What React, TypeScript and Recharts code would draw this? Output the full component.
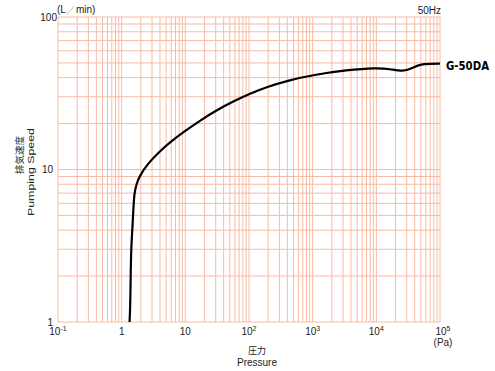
import React from 'react';
import { CartesianGrid, Line, LineChart, XAxis, YAxis } from 'recharts';

// pumping speed curve (Pa, L/min)
const pressure = [1.33, 1.35, 1.37, 1.4, 1.47, 1.53, 1.58, 1.7, 1.94, 2.62, 3.76, 6.1, 9.9, 18.1, 31.1, 56.6, 104, 190, 414, 1023, 3420, 10100, 16400, 26500, 35900, 48500, 70000, 100000];
const speed = [1, 1.15, 1.39, 2.97, 4.0, 5.6, 7.0, 8.0, 9.2, 11.0, 12.9, 15.4, 17.9, 21.3, 24.5, 28.0, 31.5, 34.8, 38.4, 41.7, 44.9, 46.5, 45.6, 43.8, 46.1, 49.0, 49.3, 49.5];

const xDecades = [-1, 0, 1, 2, 3, 4];
const yDecades = [0, 1];
const multiples = [1, 2, 3, 4, 5, 6, 7, 8, 9];

const xGrid = [...xDecades.flatMap((d) => multiples.map((m) => +(m * Math.pow(10, d)).toPrecision(3))), 100000];
const yGrid = [...yDecades.flatMap((d) => multiples.map((m) => m * Math.pow(10, d))), 100];

const data = pressure.map((p, i) => ({ p, s: speed[i] }));

const FONT = '"Liberation Sans", Arial, sans-serif';
const CJK = '"Noto Sans CJK JP", sans-serif';
const GRID = '#f7bba4';
const INK = '#222';

const isDecade = (v: number) => Math.abs(Math.log10(v) - Math.round(Math.log10(v))) < 1e-6;

function XTick(props: any) {
  const { x, payload } = props;
  const v = payload.value;
  if (!isDecade(v)) return <g />;
  const e = Math.round(Math.log10(v));
  const base = e === 0 ? '1' : '10';
  const sup = e === -1 ? '-1' : e >= 2 ? String(e) : '';
  const shift = e === 5 ? 3 : 0;
  return (
    <g>
      <text x={x + shift} y={335} textAnchor="middle" fontSize={10} fontFamily={FONT} fill={INK}>
        {base}
        {sup && (
          <tspan dy={-4} fontSize={7}>
            {sup}
          </tspan>
        )}
      </text>
      {e === 5 && (
        <text x={x + 3} y={346} textAnchor="middle" fontSize={10} fontFamily={FONT} fill={INK}>
          (Pa)
        </text>
      )}
    </g>
  );
}

function YTick(props: any) {
  const { y, payload } = props;
  const v = payload.value;
  if (!isDecade(v)) return <g />;
  const right = v === 100 ? 57 : 53;
  return (
    <text x={right} y={y} dy="0.36em" textAnchor="end" fontSize={10} fontFamily={FONT} fill={INK}>
      {String(v)}
    </text>
  );
}

export default function App() {
  return (
    <div style={{ position: 'absolute', left: 0, top: 0, width: 495, height: 371, background: '#fff' }}>
      <LineChart width={495} height={371} data={data} margin={{ top: 17, right: 55, left: 0, bottom: 0 }}>
        <CartesianGrid stroke={GRID} strokeWidth={1} />
        <XAxis
          dataKey="p"
          type="number"
          scale="log"
          domain={[0.1, 100000]}
          ticks={xGrid}
          interval={0}
          allowDataOverflow
          axisLine={false}
          tickLine={false}
          height={49}
          tick={<XTick />}
        />
        <YAxis
          dataKey="s"
          type="number"
          scale="log"
          domain={[1, 100]}
          ticks={yGrid}
          interval={0}
          allowDataOverflow
          axisLine={false}
          tickLine={false}
          width={58}
          tick={<YTick />}
        />
        <Line
          dataKey="s"
          type="basis"
          stroke="#000"
          strokeWidth={2.2}
          dot={false}
          isAnimationActive={false}
        />
        <text x={57} y={13} fontSize={10} fontFamily={FONT} fill={INK}>
          (L<tspan fill="#bbb">／</tspan>min)
        </text>
        <text x={441} y={14} textAnchor="end" fontSize={10} fontFamily={FONT} fill={INK}>
          50Hz
        </text>
        <text
          x={446}
          y={70}
          fontSize={13}
          fontWeight="bold"
          fontFamily='"DejaVu Sans Condensed", "DejaVu Sans", sans-serif'
          fill="#000"
          textLength={43}
          lengthAdjust="spacingAndGlyphs"
        >
          G-50DA
        </text>
        <text
          transform="translate(20,155) rotate(-90)"
          textAnchor="middle"
          dy="0.36em"
          fontSize={9.5}
          fontFamily={CJK}
          fill={INK}
        >
          排気速度
        </text>
        <text
          transform="translate(31,172) rotate(-90)"
          textAnchor="middle"
          dy="0.36em"
          fontSize={9.5}
          fontFamily={FONT}
          fill={INK}
          textLength={88}
          lengthAdjust="spacingAndGlyphs"
        >
          Pumping Speed
        </text>
        <text x={257} y={354} textAnchor="middle" fontSize={9} fontFamily={CJK} fill={INK}>
          圧力
        </text>
        <text x={257} y={366} textAnchor="middle" fontSize={10} fontFamily={FONT} fill={INK}>
          Pressure
        </text>
      </LineChart>
    </div>
  );
}
